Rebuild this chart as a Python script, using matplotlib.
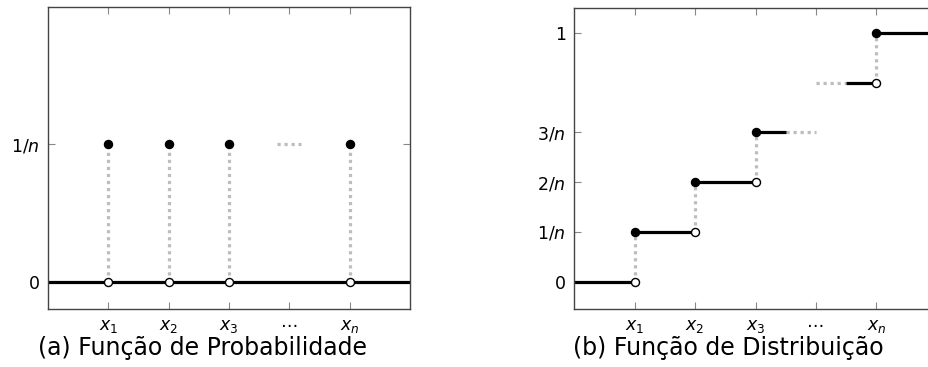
import matplotlib
matplotlib.use("Agg")
import matplotlib.pyplot as plt

plt.rcParams['mathtext.fontset'] = 'dejavusans'
plt.rcParams['font.family'] = ['DejaVu Sans']

# ---- data ----
xtick_pos = [1, 2, 3, 4, 5]
xtick_labels = ['$x_1$', '$x_2$', '$x_3$', '\u22ef', '$x_n$']

pmf_x = [1, 2, 3, 5]
pmf_y = [1, 1, 1, 1]          # in units of 1/n
pmf_gap = (3.8, 4.2)          # dotted "..." at 1/n
pmf_yticks = [0, 1]
pmf_yticklabels = ['0', '$1/n$']

cdf_jump_x = [1, 2, 3, 5]
cdf_before = [0, 1, 2, 4]
cdf_after = [1, 2, 3, 5]
cdf_solid_start = [0, 1, 2, 3, 4.5, 5]
cdf_solid_end = [1, 2, 3, 3.5, 5, 6]
cdf_solid_level = [0, 1, 2, 3, 4, 5]
cdf_dot_start = [3.5, 4]
cdf_dot_end = [4, 4.5]
cdf_dot_level = [3, 4]
cdf_yticks = [0, 1, 2, 3, 5]
cdf_yticklabels = ['0', '$1/n$', '$2/n$', '$3/n$', '1']

GRAY = '#bdbdbd'
LW = 2.3
DOT_LW = 2.3
MS = 5.8

fig = plt.figure(figsize=(9.29, 3.67), dpi=100)
ax1 = fig.add_axes([0.0517, 0.158, 0.3896, 0.823])
ax2 = fig.add_axes([0.6179, 0.158, 0.3907, 0.820])

def style(ax):
    ax.tick_params(direction='in', length=5, width=0.8, color='#888888',
                   top=True, right=True, labelsize=12.5, pad=6)
    for s in ax.spines.values():
        s.set_color('#444444')
        s.set_linewidth(1.0)
    ax.set_xticks(xtick_pos)
    ax.set_xticklabels(xtick_labels)

# ---- (a) PMF ----
ax1.set_xlim(0, 6)
ax1.set_ylim(-0.2, 2.0)
style(ax1)
ax1.set_yticks(pmf_yticks)
ax1.set_yticklabels(pmf_yticklabels)
ax1.axhline(0, color='black', lw=LW, zorder=2)
for x, y in zip(pmf_x, pmf_y):
    ax1.plot([x, x], [0, y], color=GRAY, lw=DOT_LW, ls=(0, (1, 1.2)), zorder=1)
ax1.plot(pmf_gap, [1, 1], color=GRAY, lw=DOT_LW, ls=(0, (1, 1.2)), zorder=1)
ax1.plot(pmf_x, pmf_y, 'o', color='black', ms=MS, zorder=3)
ax1.plot(pmf_x, [0]*len(pmf_x), 'o', mfc='white', mec='black', mew=1.0, ms=MS, zorder=3)
fig.text(202 / 929, 1 - 348 / 367, '(a) Função de Probabilidade',
         ha='center', va='center', fontsize=17)

# ---- (b) CDF ----
ax2.set_xlim(0, 6)
ax2.set_ylim(-0.55, 5.5)
style(ax2)
ax2.spines['right'].set_visible(False)
ax2.tick_params(right=False)
ax2.set_yticks(cdf_yticks)
ax2.set_yticklabels(cdf_yticklabels)
for a, b, l in zip(cdf_solid_start, cdf_solid_end, cdf_solid_level):
    ax2.plot([a, b], [l, l], color='black', lw=LW, zorder=2, solid_capstyle='butt')
for a, b, l in zip(cdf_dot_start, cdf_dot_end, cdf_dot_level):
    ax2.plot([a, b], [l, l], color=GRAY, lw=DOT_LW, ls=(0, (1, 1.2)), zorder=1)
for x, y0, y1 in zip(cdf_jump_x, cdf_before, cdf_after):
    ax2.plot([x, x], [y0, y1], color=GRAY, lw=DOT_LW, ls=(0, (1, 1.2)), zorder=1)
ax2.plot(cdf_jump_x, cdf_after, 'o', color='black', ms=MS, zorder=3)
ax2.plot(cdf_jump_x, cdf_before, 'o', mfc='white', mec='black', mew=1.0, ms=MS, zorder=3)
fig.text(728 / 929, 1 - 348 / 367, '(b) Função de Distribuição',
         ha='center', va='center', fontsize=17)

fig.savefig('out.png', dpi=100)
